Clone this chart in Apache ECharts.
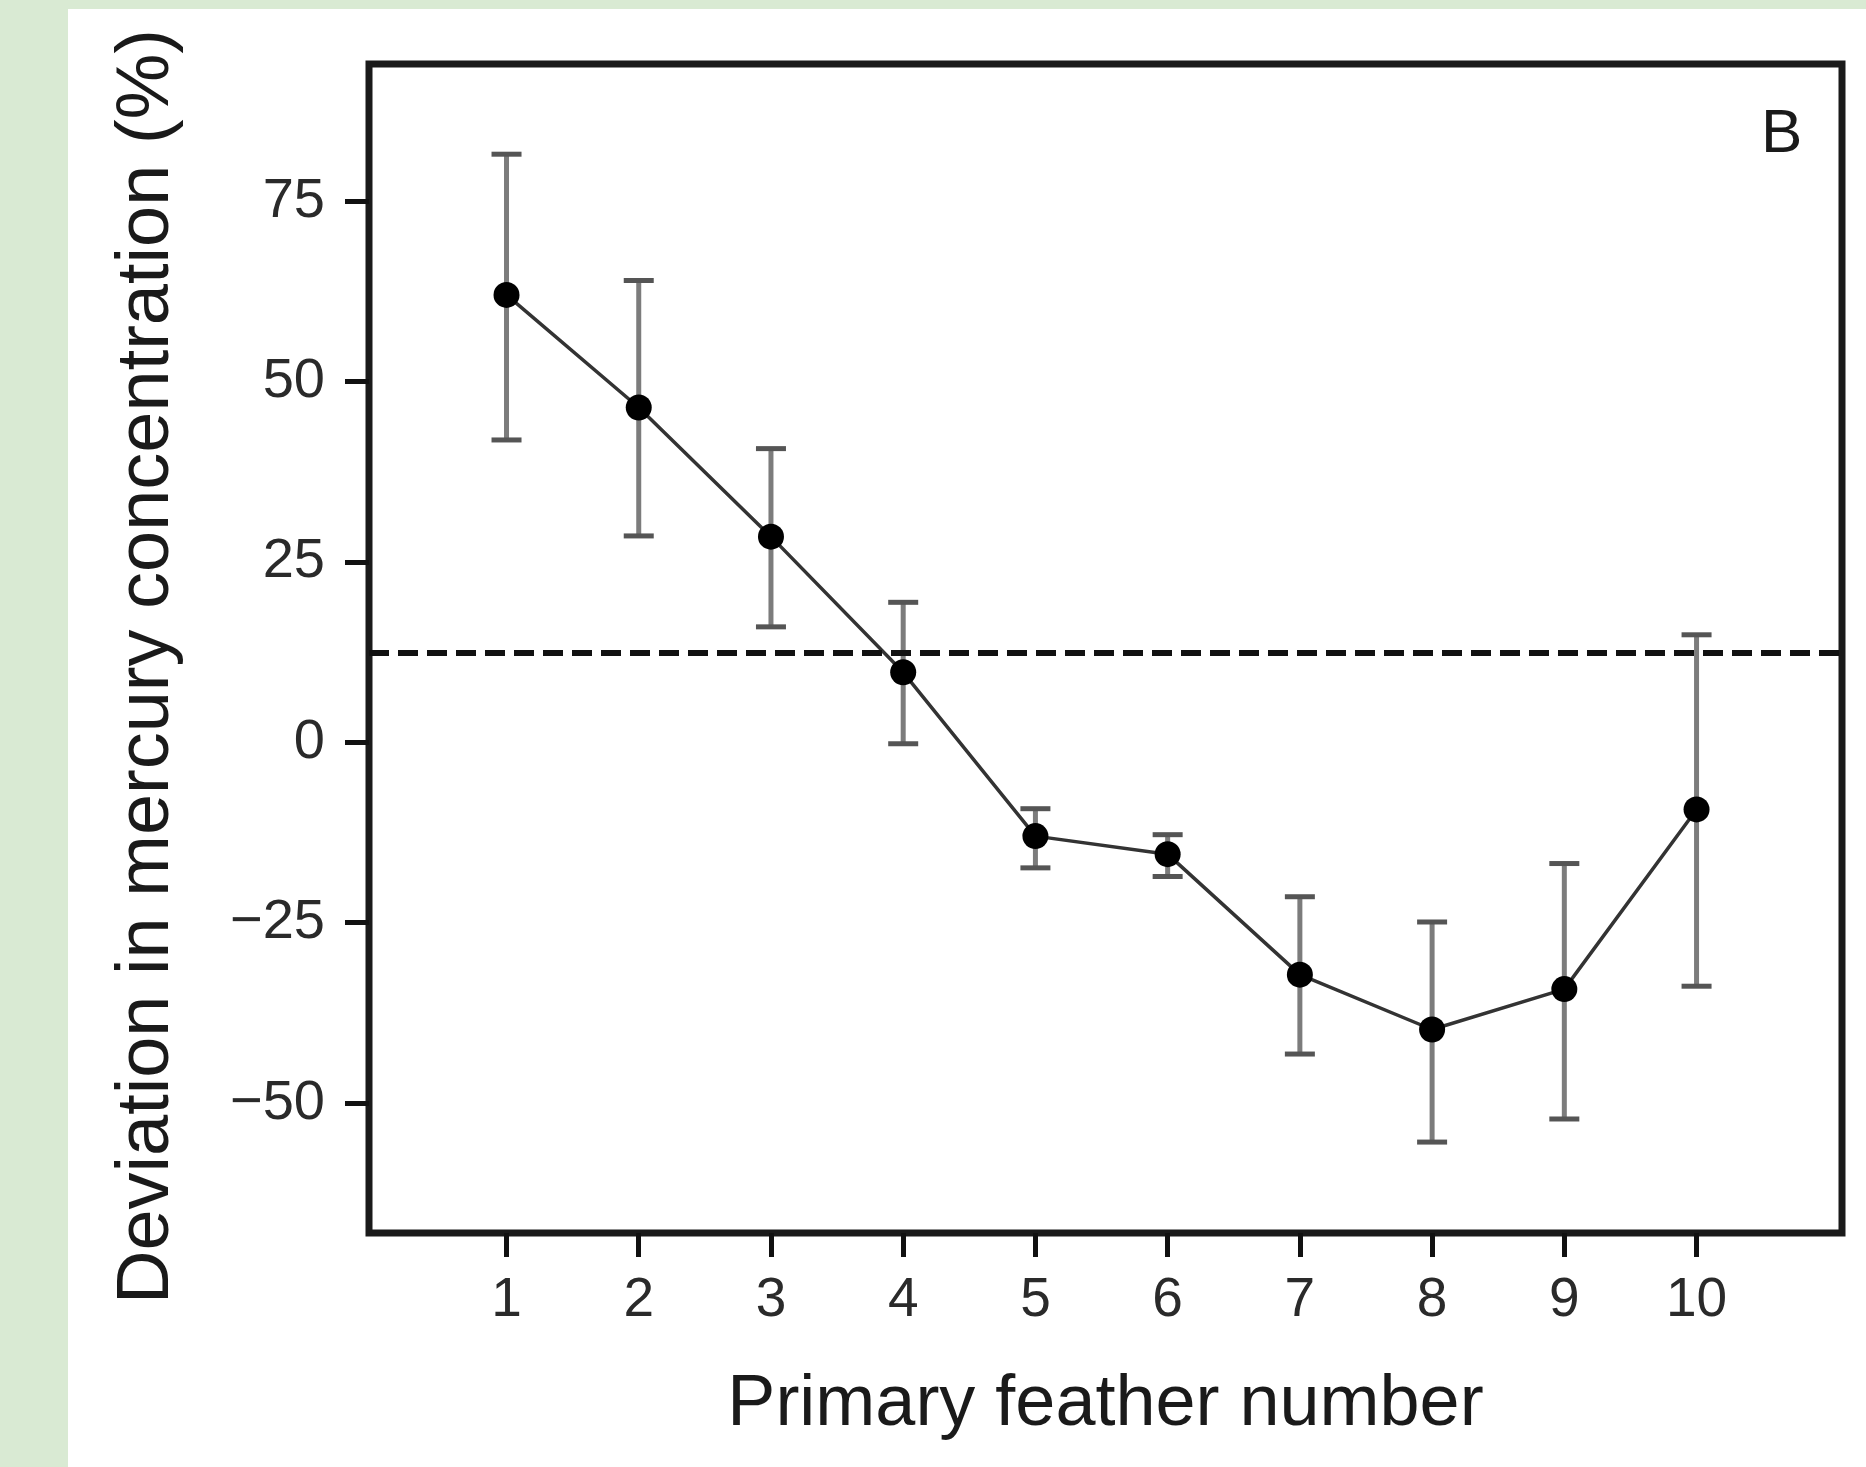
<!DOCTYPE html>
<html>
<head>
<meta charset="UTF-8" />
<title>Primary feather mercury deviation</title>
<script src="https://cdn.jsdelivr.net/npm/echarts@6/dist/echarts.min.js"></script>
<style>
body { margin: 0; background: #d9ead3; }
#paper { position: absolute; left: 68px; top: 9px; right: 0; bottom: 0; background: #fff; }
#chart { position: absolute; left: 0; top: 0; width: 1866px; height: 1467px; }
</style>
</head>
<body>
<div id="paper"></div>
<div id="chart"></div>
<script>
// data
var featherNumbers = [1, 2, 3, 4, 5, 6, 7, 8, 9, 10];
var meanDeviation = [62.0, 46.4, 28.5, 9.7, -13.0, -15.5, -32.2, -39.8, -34.2, -9.3];
var upperError = [81.5, 64.0, 40.7, 19.4, -9.2, -12.8, -21.4, -24.9, -16.8, 14.9];
var lowerError = [41.9, 28.6, 16.0, -0.2, -17.4, -18.6, -43.2, -55.4, -52.2, -33.8];
var referenceLevel = 12.4;
var yTickValues = [-50, -25, 0, 25, 50, 75];
var panelLetter = "B";

var myChart = echarts.init(document.getElementById("chart"));
var font = "Liberation Sans";

var linePoints = featherNumbers.map(function (x, i) { return [x, meanDeviation[i]]; });
var barPoints = featherNumbers.map(function (x, i) { return [x, lowerError[i], upperError[i]]; });

var option = {
  animation: false,
  backgroundColor: "transparent",
  grid: {
    left: 369, right: 24, top: 64, bottom: 234,
    show: true, borderColor: "#1a1a1a", borderWidth: 7, backgroundColor: "transparent"
  },
  graphic: [{
    type: "text", left: 1761, top: 104,
    style: { text: panelLetter, font: "62px " + font, fill: "#1a1a1a" }
  }],
  xAxis: {
    type: "value", min: -0.04, max: 11.1,
    name: "Primary feather number", nameLocation: "middle", nameGap: 136,
    nameTextStyle: { fontFamily: font, fontSize: 72, color: "#1a1a1a" },
    splitLine: { show: false },
    axisLine: { show: false, onZero: false },
    axisTick: { show: true, customValues: featherNumbers, length: 24, lineStyle: { color: "#111", width: 5 } },
    axisLabel: { customValues: featherNumbers, margin: 40, fontFamily: font, fontSize: 55, color: "#2a2a2a" }
  },
  yAxis: {
    type: "value", min: -68, max: 94,
    name: "Deviation in mercury concentration (%)", nameLocation: "middle", nameGap: 184,
    nameTextStyle: { fontFamily: font, fontSize: 74, color: "#1a1a1a", padding: [0, 36, 0, 0] },
    splitLine: { show: false },
    axisLine: { show: false, onZero: false },
    axisTick: { show: true, customValues: yTickValues, length: 24, lineStyle: { color: "#111", width: 5 } },
    axisLabel: {
      customValues: yTickValues, margin: 44, fontFamily: font, fontSize: 56, color: "#2a2a2a",
      formatter: function (v) { return String(v).replace("-", "\u2212"); }
    }
  },
  series: [
    {
      // error bars
      type: "custom",
      data: barPoints,
      z: 2,
      renderItem: function (params, api) {
        var lo = api.coord([api.value(0), api.value(1)]);
        var hi = api.coord([api.value(0), api.value(2)]);
        var half = 15;
        return {
          type: "group",
          children: [
            { type: "line", shape: { x1: lo[0], y1: lo[1], x2: hi[0], y2: hi[1] }, style: { stroke: "#7c7c7c", lineWidth: 5 } },
            { type: "line", shape: { x1: hi[0] - half, y1: hi[1], x2: hi[0] + half, y2: hi[1] }, style: { stroke: "#555", lineWidth: 5 } },
            { type: "line", shape: { x1: lo[0] - half, y1: lo[1], x2: lo[0] + half, y2: lo[1] }, style: { stroke: "#555", lineWidth: 5 } }
          ]
        };
      }
    },
    {
      type: "line",
      data: linePoints,
      z: 3,
      symbol: "circle",
      symbolSize: 26,
      itemStyle: { color: "#000" },
      lineStyle: { color: "#333", width: 3.5 },
      markLine: {
        silent: true,
        symbol: "none",
        label: { show: false },
        lineStyle: { color: "#111", width: 6, type: [20, 9] },
        data: [{ yAxis: referenceLevel }]
      }
    }
  ]
};

myChart.setOption(option);
</script>
</body>
</html>
